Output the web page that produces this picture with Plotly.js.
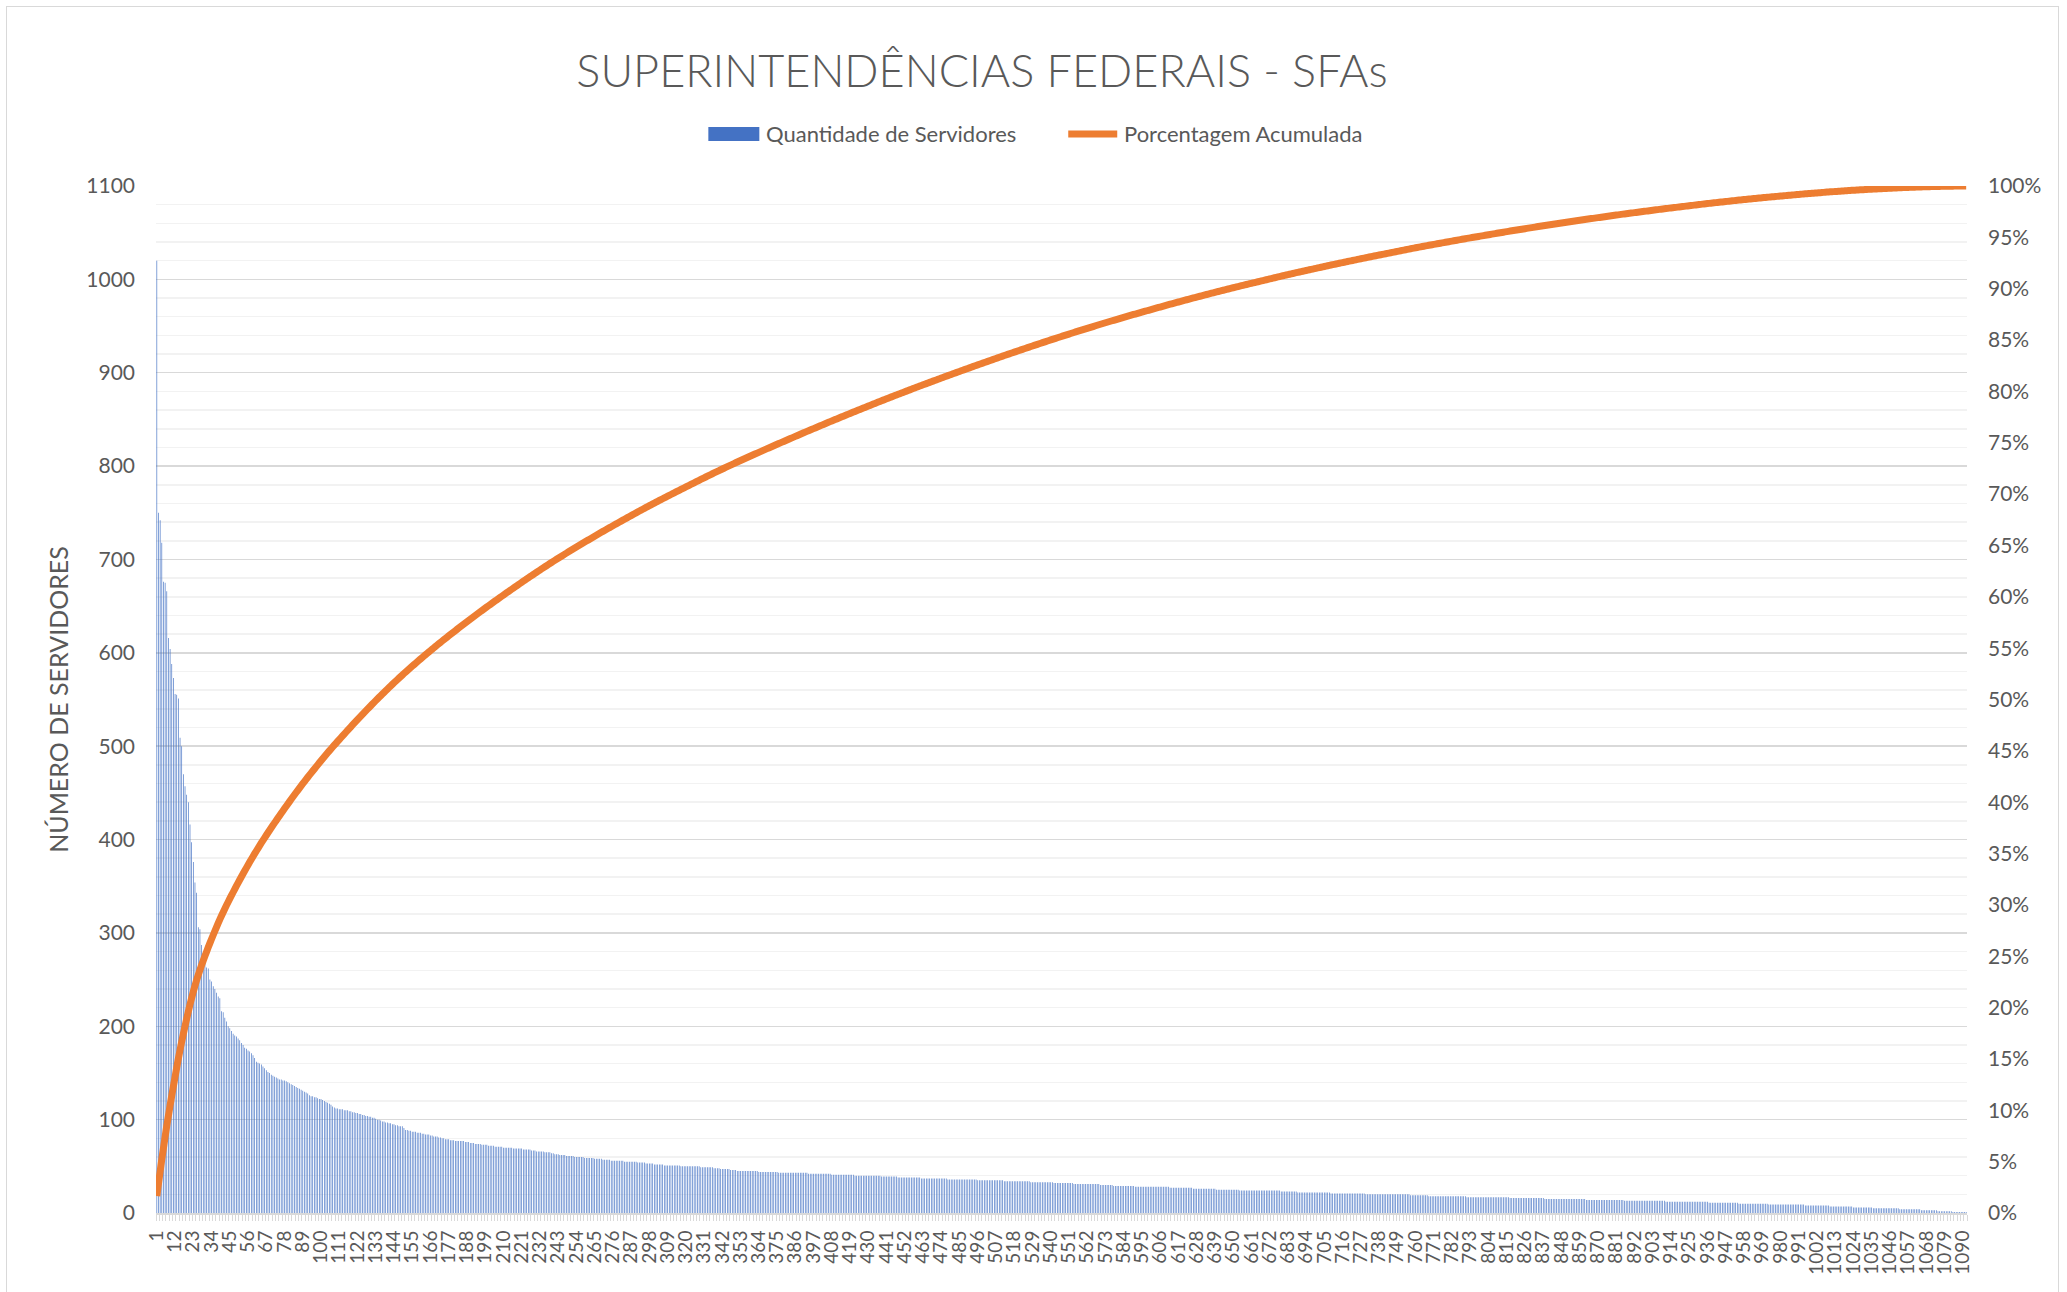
<!DOCTYPE html>
<html>
<head>
<meta charset="utf-8">
<script src="https://cdn.plot.ly/plotly-3.0.1.min.js"></script>
<style>
  html, body { margin: 0; padding: 0; background: #ffffff; }
  #chart { width: 2067px; height: 1292px; }
  #frame { position: absolute; left: 6px; top: 6px; width: 2053px; height: 1300px;
           border: 1.5px solid #d9d9d9; pointer-events: none; box-sizing: border-box; }
</style>
</head>
<body>
<div id="chart"></div>
<div id="frame"></div>
<script>
// Servers per unit, ranks 1..100 (read individually)
const headValues = [1020,750,742,718,676,675,666,616,604,588,573,556,555,551,509,500,470,457,448,440,
  416,397,376,354,343,306,304,287,275,270,263,262,250,248,243,240,236,232,230,216,
  215,209,205,200,198,195,192,190,189,187,185,182,180,177,176,174,173,171,169,166,
  162,161,160,159,157,155,153,151,150,148,147,146,145,144,143,143,142,142,141,140,
  139,138,137,136,135,134,133,132,131,130,129,128,126,125,125,124,124,123,122,122];

// Ranks 101..1092 read as plateaus: value and number of bars with that value
const runValues = [121,120,119,118,117,116,114,113,
  112,111,110,109,108,107,106,105,104,103,102,101,100,99,98,97,96,95,94,93,91,89,88,87,86,85,84,83,82,81,80,79,78,
  77,76,75,74,73,72,71,70,69,68,67,66,65,64,63,62,61,60,59,58,57,56,55,54,53,52,51,50,49,48,47,46,45,44,43,42,41,40,
  39,38,37,36,35,34,33,32,31,30,29,28,27,26,25,24,23,22,21,20,19,18,17,16,15,14,13,12,11,10,9,8,7,6,5,4,3,2,1];
const runCounts = [1,1,1,1,1,1,1,1,
  2,3,3,2,2,2,2,2,2,2,2,1,2,1,2,2,2,2,2,3,1,2,2,3,3,2,3,2,3,2,2,3,3,
  6,3,3,4,4,4,5,6,6,5,3,5,4,2,3,4,5,6,6,5,5,8,8,5,5,6,10,12,8,4,6,4,13,12,18,14,14,16,
  10,14,16,18,16,16,14,12,16,8,13,21,14,14,14,25,10,20,21,27,11,23,26,21,25,23,25,26,18,18,22,15,14,12,16,13,10,9,9];

const seriesBarName = 'Quantidade de Servidores';
const seriesLineName = 'Porcentagem Acumulada';
const titleText = 'SUPERINTENDÊNCIAS FEDERAIS - SFAs';
const yTitleText = 'NÚMERO DE SERVIDORES';
const tickEvery = 11;

// expand plateaus into per-rank values
const servers = headValues.slice();
runValues.forEach((v, i) => { for (let k = 0; k < runCounts[i]; k++) servers.push(v); });
const ranks = servers.map((_, i) => i + 1);
const total = servers.reduce((a, b) => a + b, 0);
let acc = 0;
const cumulative = servers.map(v => { acc += v; return acc / total; });

const tickVals = ranks.filter(r => (r - 1) % tickEvery === 0);
const tickText = tickVals.map(String);

const N = ranks.length;
const txt = '#595959';
const FONT = 'Lato, "Open Sans", sans-serif';
const BLUE = '#4472C4', ORANGE = '#ED7D31';

// plot area in pixels (for placing the hand-drawn legend)
const L = 155.5, R = 100, T = 186, B = 79, W = 2067, H = 1292;
const px = x => (x - L) / (W - L - R);
const py = y => (H - B - y) / (H - B - T);

const traces = [
  { type: 'bar', name: seriesBarName, x: ranks, y: servers,
    marker: { color: BLUE, line: { width: 0 } }, yaxis: 'y', hoverinfo: 'skip', showlegend: false },
  { type: 'scatter', mode: 'lines', name: seriesLineName, x: ranks, y: cumulative,
    yaxis: 'y2', line: { color: ORANGE, width: 7, simplify: false }, hoverinfo: 'skip', showlegend: false }
];

const layout = {
  width: W, height: H,
  margin: { l: L, r: R, t: T, b: B },
  paper_bgcolor: '#ffffff', plot_bgcolor: '#ffffff',
  font: { family: FONT, color: txt },
  bargap: 0.6,
  showlegend: false,
  title: { text: titleText, x: 982 / W, xanchor: 'center', xref: 'container',
           y: 1 - 71 / H, yanchor: 'middle', yref: 'container',
           font: { family: FONT, size: 45, color: txt, weight: 300 } },
  shapes: [
    { type: 'rect', xref: 'paper', yref: 'paper', x0: px(708), x1: px(759), y0: py(141), y1: py(127),
      fillcolor: BLUE, line: { width: 0 } },
    { type: 'line', xref: 'paper', yref: 'paper', x0: px(1068), x1: px(1117), y0: py(134), y1: py(134),
      line: { color: ORANGE, width: 7 } }
  ],
  annotations: [
    { text: seriesBarName, xref: 'paper', yref: 'paper', x: px(764), y: py(134), xanchor: 'left', yanchor: 'middle',
      showarrow: false, font: { family: FONT, size: 22, color: txt } },
    { text: seriesLineName, xref: 'paper', yref: 'paper', x: px(1122), y: py(134), xanchor: 'left', yanchor: 'middle',
      showarrow: false, font: { family: FONT, size: 22, color: txt } }
  ],
  xaxis: { type: 'linear', range: [0.5, N + 0.5], tickmode: 'array', tickvals: tickVals, ticktext: tickText,
           tickangle: -90, tickfont: { size: 19, color: txt }, showgrid: false, zeroline: false,
           showline: true, linecolor: '#d9d9d9', linewidth: 2, ticks: '', ticklabelstandoff: 8,
           minor: { tickmode: 'linear', tick0: 0.5, dtick: 2, ticks: 'outside', ticklen: 6, tickcolor: '#d9d9d9', tickwidth: 1, showgrid: false },
           fixedrange: true },
  yaxis: { range: [0, 1100], dtick: 100, tickfont: { size: 21, color: txt }, showline: false,
           gridcolor: '#d9d9d9', gridwidth: 1.5, zeroline: false, ticks: '', ticklabelstandoff: 20,
           minor: { dtick: 20, showgrid: true, gridcolor: '#f2f2f2', gridwidth: 1.5 },
           title: { text: yTitleText, font: { size: 25, color: txt }, standoff: 10 }, fixedrange: true },
  yaxis2: { range: [0, 1], dtick: 0.05, tickformat: '.0%', overlaying: 'y', side: 'right',
            tickfont: { size: 21, color: txt }, showgrid: false, zeroline: false, showline: false,
            ticks: '', ticklabelstandoff: 20, fixedrange: true }
};

Plotly.newPlot('chart', traces, layout, { staticPlot: true, displayModeBar: false });
</script>
</body>
</html>
